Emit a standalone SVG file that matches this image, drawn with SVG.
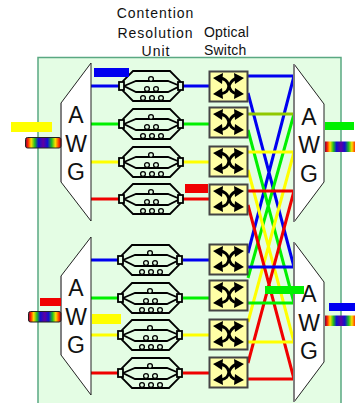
<svg xmlns="http://www.w3.org/2000/svg" xmlns:xlink="http://www.w3.org/1999/xlink" width="355" height="403" viewBox="0 0 355 403">
<style>
text{font-family:"Liberation Sans",Arial,sans-serif;fill:#111}
.cap{font-size:14px}
.awg{font-size:23px;text-anchor:middle}
.body{fill:#fff;stroke:#222;stroke-width:1}
.edge{stroke:#808080;stroke-width:2;fill:none}
.w{fill:none;stroke-width:3}
.cru{fill:none;stroke:#000;stroke-width:1.8}
.cw{fill:#e4fde4;stroke:#000;stroke-width:1.3}
.sw{fill:#ffffa6;stroke:#444;stroke-width:2}
.xl{fill:none;stroke:#000;stroke-width:2.8}
.b{stroke:#0000f0}.g{stroke:#00f000}.y{stroke:#ffff00}.r{stroke:#f00000}
.rb{fill:url(#rainbow);stroke:#222;stroke-width:1}
</style>
<defs>
<linearGradient id="rainbow" x1="0" x2="1" y1="0" y2="0">
<stop offset="0" stop-color="#800040"/><stop offset=".07" stop-color="#ff2000"/><stop offset=".16" stop-color="#ffe000"/><stop offset=".26" stop-color="#20c020"/><stop offset=".36" stop-color="#1010d0"/><stop offset=".5" stop-color="#6000a0"/><stop offset=".62" stop-color="#1010d0"/><stop offset=".74" stop-color="#20c020"/><stop offset=".84" stop-color="#ffe000"/><stop offset=".94" stop-color="#ff3000"/><stop offset="1" stop-color="#a00020"/>
</linearGradient>
<g id="cruShape">
<polygon class="cru" points="133,-15 170,-15 180,-5 180,5 170,15 133,15 123,5 123,-5"/>
<path class="cru" d="M124,0 L136,-5 H168 L180,0 L168,6 H136 Z"/>
<rect x="119" y="-4" width="5" height="8" fill="#e4fde4" stroke="#000" stroke-width="1.8"/>
<rect x="178" y="-4" width="5" height="8" fill="#e4fde4" stroke="#000" stroke-width="1.8"/>
<circle class="cw" cx="151" cy="-7" r="2.4"/>
<circle class="cw" cx="147" cy="3" r="2.4"/><circle class="cw" cx="156" cy="3" r="2.4"/>
<circle class="cw" cx="143" cy="12" r="2.4"/><circle class="cw" cx="152" cy="12" r="2.4"/><circle class="cw" cx="161" cy="12" r="2.4"/>
</g>
<g id="swShape">
<rect class="sw" x="209.500" y="-14.500" width="38" height="30"/>
<path class="xl" d="M220,-8 C228,-7 228,-2 229,0 C230,3 231,7 238,8"/>
<path class="xl" d="M238,-8 C231,-7 230,-2 229,0 C228,3 228,7 220,8"/>
<path d="M213,-8 L223,-13 L222,-2 Z M213,8 L222,2 L223,13 Z M244,-8 L234,-13 L235,-2 Z M244,8 L235,2 L234,13 Z" fill="#000"/>
</g>
</defs>
<rect id="panel" x="38" y="57.500" width="303" height="360" fill="#e4fde4" stroke="#5aa882" stroke-width="1.5"/>
<g id="connectors">
<path class="w b" d="M248,93 L294,267 M294,76 L248,253"/>
<path class="w g" d="M248,130 L294,303 M294,114 L248,278"/>
<path class="w y" d="M248,170 L294,342 M294,152 L248,322"/>
<path class="w r" d="M248,205 L294,379 M294,191 L248,363"/>
<path class="w b" d="M91,86 H119 M183,86 H209 M248,76 H294 M91,260 H119 M183,260 H209 M248,267 H294"/>
<path class="w g" d="M91,124 H119 M183,124 H209 M91,298 H119 M183,298 H209 M248,303 H294"/>
<path class="w" stroke="#90c800" d="M248,114 H294"/>
<path class="w y" d="M91,162 H119 M183,162 H209 M248,152 H294 M91,335 H119 M183,335 H209 M248,342 H294"/>
<path class="w r" d="M91,199 H119 M183,199 H209 M248,191 H294 M91,373 H119 M183,373 H209 M248,379 H294"/>
</g>
<g id="cru-units">
<use id="cru1" xlink:href="#cruShape" href="#cruShape" transform="translate(0,86)"/>
<use id="cru2" xlink:href="#cruShape" href="#cruShape" transform="translate(0,124)"/>
<use id="cru3" xlink:href="#cruShape" href="#cruShape" transform="translate(0,162)"/>
<use id="cru4" xlink:href="#cruShape" href="#cruShape" transform="translate(0,199)"/>
<use id="cru5" xlink:href="#cruShape" href="#cruShape" transform="translate(-1,260)"/>
<use id="cru6" xlink:href="#cruShape" href="#cruShape" transform="translate(-1,298)"/>
<use id="cru7" xlink:href="#cruShape" href="#cruShape" transform="translate(-1,335)"/>
<use id="cru8" xlink:href="#cruShape" href="#cruShape" transform="translate(-1,373)"/>
</g>
<g id="switches">
<use id="sw1" xlink:href="#swShape" href="#swShape" transform="translate(0,86)"/>
<use id="sw2" xlink:href="#swShape" href="#swShape" transform="translate(0,122)"/>
<use id="sw3" xlink:href="#swShape" href="#swShape" transform="translate(0,161)"/>
<use id="sw4" xlink:href="#swShape" href="#swShape" transform="translate(0,199)"/>
<use id="sw5" xlink:href="#swShape" href="#swShape" transform="translate(0,259)"/>
<use id="sw6" xlink:href="#swShape" href="#swShape" transform="translate(0,295)"/>
<use id="sw7" xlink:href="#swShape" href="#swShape" transform="translate(0,334)"/>
<use id="sw8" xlink:href="#swShape" href="#swShape" transform="translate(0,372)"/>
</g>
<g id="awg-left-top">
<polygon class="body" points="91,63 61,103 61,182 91,221"/><path class="edge" d="M61,103 V182"/>
<text class="awg" x="76" y="123">A</text><text class="awg" x="76" y="152">W</text><text class="awg" x="76" y="180">G</text>
</g>
<g id="awg-left-bottom">
<polygon class="body" points="91,237 61,276 61,355 91,395"/><path class="edge" d="M61,276 V355"/>
<text class="awg" x="76" y="296">A</text><text class="awg" x="76" y="325">W</text><text class="awg" x="76" y="353">G</text>
</g>
<g id="awg-right-top">
<polygon class="body" points="294,64 324,104 324,182 294,222"/><path class="edge" d="M294,64 V222"/>
<text class="awg" x="309" y="125">A</text><text class="awg" x="309" y="153">W</text><text class="awg" x="309" y="182">G</text>
</g>
<g id="awg-right-bottom">
<polygon class="body" points="294,242 324,282 324,362 294,402"/><path class="edge" d="M294,242 V402"/>
<text class="awg" x="309" y="302">A</text><text class="awg" x="309" y="331">W</text><text class="awg" x="309" y="359">G</text>
</g>
<g id="signals">
<rect class="rb" x="25.500" y="137.500" width="35.500" height="10.500" rx="2"/>
<rect class="rb" x="28.500" y="311.500" width="32.500" height="10.500" rx="2"/>
<rect x="325" y="141.500" width="32" height="10.500" fill="url(#rainbow)"/>
<rect x="325" y="315.500" width="32" height="10.500" fill="url(#rainbow)"/>
<rect x="94" y="68" width="35" height="9" fill="#0000f0"/>
<rect x="185" y="184" width="23" height="9" fill="#f00000"/>
<rect x="325" y="122" width="29" height="8" fill="#00f000"/>
<rect x="11" y="122" width="41" height="10" fill="#ffff00"/>
<rect x="40" y="298" width="21" height="8" fill="#f00000"/>
<rect x="92" y="314" width="29" height="10" fill="#ffff00"/>
<rect x="265" y="286" width="39" height="8" fill="#00f000"/>
<rect x="329" y="303" width="26" height="8" fill="#0000f0"/>
</g>
<g id="captions">
<text class="cap" x="155.500" y="18" text-anchor="middle" letter-spacing="1">Contention</text>
<text class="cap" x="155.500" y="38" text-anchor="middle" letter-spacing="1">Resolution</text>
<text class="cap" x="156" y="56" text-anchor="middle" letter-spacing="1">Unit</text>
<text class="cap" x="204" y="37" letter-spacing=".2">Optical</text>
<text class="cap" x="204" y="55" letter-spacing=".2">Switch</text>
</g>
</svg>
